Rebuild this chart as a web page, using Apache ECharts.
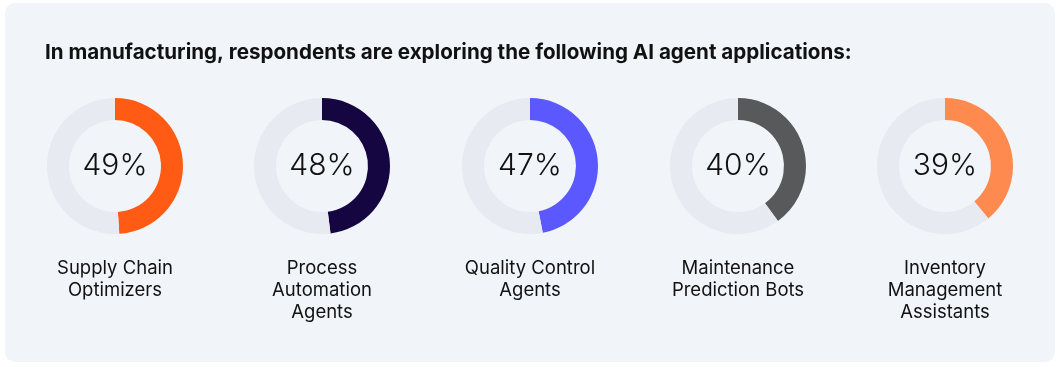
<!DOCTYPE html>
<html><head><meta charset="utf-8">
<script src="https://cdn.jsdelivr.net/npm/echarts@6/dist/echarts.min.js"></script>
<style>html,body{margin:0;padding:0;background:#fff}#c{width:1059px;height:367px}</style>
</head><body><div id="c"></div>
<script>
const titleText = 'In manufacturing, respondents are exploring the following AI agent applications:';
const categories = ['Supply Chain\nOptimizers', 'Process\nAutomation\nAgents', 'Quality Control\nAgents', 'Maintenance\nPrediction Bots', 'Inventory\nManagement\nAssistants'];
const values = [49, 48, 47, 40, 39];
const colors = ['#ff5b14', '#150641', '#5b58ff', '#58595b', '#ff8a50'];

const centersX = [115, 322, 530, 738, 945];
const chart = echarts.init(document.getElementById('c'));
const series = values.map((v, i) => ({
  type: 'pie',
  center: [centersX[i], 166],
  radius: [46, 68],
  startAngle: 90,
  clockwise: true,
  silent: true,
  avoidLabelOverlap: false,
  label: { show: false },
  labelLine: { show: false },
  data: [
    { value: v, itemStyle: { color: colors[i] }, label: { show: true, position: 'center', formatter: v + '%', fontFamily: 'Inter', fontWeight: 300, fontSize: 30, color: '#111' } },
    { value: 100 - v, itemStyle: { color: '#e7eaf0' } }
  ]
}));
const titles = [{ text: titleText, left: 45, top: 42, padding: 0, textStyle: { fontFamily: 'Inter', fontWeight: 700, fontSize: 20.6, color: '#111' } }]
  .concat(categories.map((c, i) => ({
    text: c, left: centersX[i], top: 257, padding: 0, textAlign: 'center',
    textStyle: { fontFamily: 'Inter', fontWeight: 400, fontSize: 18.5, lineHeight: 22, color: '#111' }
  })));
chart.setOption({
  animation: false,
  graphic: [{ type: 'rect', shape: { x: 5, y: 3, width: 1050, height: 359, r: 10 }, style: { fill: '#f1f4f8' }, z: -10 }],
  title: titles,
  series: series
});
</script></body></html>
